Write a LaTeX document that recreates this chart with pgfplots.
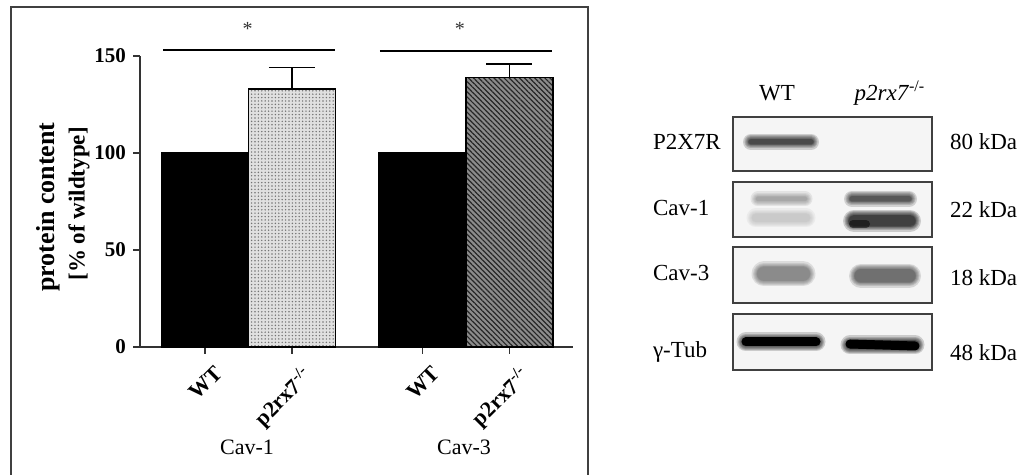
\documentclass[border=0pt]{standalone}
\usepackage{fontspec}
\setmainfont{Liberation Serif}
\usepackage{pgfplots}
\pgfplotsset{compat=1.18}
\usetikzlibrary{patterns.meta}

% soft western-blot band: x1, x2, y, core width (px), colour
\newcommand{\bandlayer}[5]{%
  \addplot[no marks, line cap=round, line width={(#4)*0.5pt}, draw=#5, opacity=0.17] coordinates {(#1,#3) (#2,#3)};
}
\newcommand{\band}[5]{%
  \bandlayer{#1}{#2}{#3}{#4+11}{#5}
  \bandlayer{#1}{#2}{#3}{#4+8}{#5}
  \bandlayer{#1}{#2}{#3}{#4+6}{#5}
  \bandlayer{#1}{#2}{#3}{#4+4}{#5}
  \bandlayer{#1}{#2}{#3}{#4+2}{#5}
  \bandlayer{#1}{#2}{#3}{#4+1}{#5}
  \bandlayer{#1}{#2}{#3}{#4}{#5}
}
\newcommand{\blotbox}[2]{%
  \addplot[draw=black!75, line width=0.75pt, fill=black!4] coordinates {(733,#1) (932,#1) (932,#2) (733,#2)} -- cycle;
}

\begin{document}
\begin{tikzpicture}
\useasboundingbox (0,0) rectangle (509.5pt,237.5pt);
\fill[white] (0,0) rectangle (509.5pt,237.5pt);

% frame round the bar chart
\draw[black!75, line width=0.75pt] (5.5pt,-2pt) -- (5.5pt,234pt) -- (294pt,234pt) -- (294pt,-2pt);

% y label
\node[rotate=90, font=\fontsize{13}{15}\selectfont\bfseries] at (24pt,134pt) {protein content};
\node[rotate=90, font=\fontsize{11.5}{13}\selectfont\bfseries] at (39.5pt,135.5pt) {[\% of wildtype]};

% group labels
\node[font=\fontsize{11}{13}\selectfont] at (123.5pt,14pt) {Cav-1};
\node[font=\fontsize{11}{13}\selectfont] at (232pt,14pt) {Cav-3};

\begin{axis}[
  at={(70pt,64pt)}, anchor=south west, scale only axis,
  width=216.5pt, height=145.5pt,
  xmin=-0.747, xmax=4.23, ymin=0, ymax=150,
  axis lines*=left,
  axis line style={line width=0.75pt, black!80},
  xtick={0,1,2.5,3.5},
  xticklabels={WT, p2rx7\textsuperscript{-/-}, WT, p2rx7\textsuperscript{-/-}},
  xticklabel style={rotate=45, anchor=north east, inner sep=1pt,
    xshift=0.5pt, yshift=-5.5pt,
    font=\fontsize{11}{13}\selectfont\bfseries},
  ytick={0,50,100,150},
  yticklabels={0,50,100,150},
  yticklabel style={font=\fontsize{10.5}{12}\selectfont\bfseries},
  tick align=outside, major tick length=3.5pt,
  tick style={line width=0.75pt, black!80},
  clip=false,
]
% wildtype bars
\addplot[ybar, bar width=1, bar shift=0pt, fill=black, draw=black, line width=0.8pt]
  coordinates {(0,100) (2.5,100)};
% p2rx7-/- Cav-1
\addplot[ybar, bar width=1, bar shift=0pt, draw=black, line width=0.8pt, fill=black!12,
  postaction={pattern={Dots[distance=1.7pt, radius=0.4pt]}, pattern color=black!55},
  error bars/.cd, y dir=plus, y explicit,
  error bar style={line width=0.8pt, black},
  error mark options={rotate=90, line width=0.8pt, black, mark size=11.5pt}]
  coordinates {(1,133) +- (0,11)};
% p2rx7-/- Cav-3
\addplot[ybar, bar width=1, bar shift=0pt, draw=black, line width=0.8pt, fill=black!45,
  postaction={pattern={Lines[angle=-45, distance=1.8pt, line width=0.6pt]}, pattern color=black!85},
  error bars/.cd, y dir=plus, y explicit,
  error bar style={line width=0.8pt, black},
  error mark options={rotate=90, line width=0.8pt, black, mark size=11.5pt}]
  coordinates {(3.5,139) +- (0,7)};
% significance
\addplot[no marks, black, line width=1.1pt] coordinates {(-0.48,153) (1.49,153)};
\addplot[no marks, black, line width=1.1pt] coordinates {(2.01,152.6) (3.99,152.6)};
\node[font=\fontsize{10}{12}\selectfont, black!80] at (axis cs:0.49,164) {*};
\node[font=\fontsize{10}{12}\selectfont, black!80] at (axis cs:2.93,164) {*};
\end{axis}

% western blot, in picture pixel coordinates
\begin{axis}[
  at={(320pt,0pt)}, anchor=south west, scale only axis,
  width=189.5pt, height=237.5pt,
  xmin=640, xmax=1019, ymin=0, ymax=475, y dir=reverse,
  hide axis, clip=false,
]
\blotbox{117}{171}
\blotbox{182}{237}
\blotbox{247}{303}
\blotbox{314}{370}
% P2X7R
\band{751}{811}{142}{5}{black!95}
% Cav-1
\band{758}{805}{199}{4}{black!45}
\band{756}{806}{218}{8}{black!26}
\band{852}{909}{199}{5}{black!88}
\band{854}{910}{221}{11}{black}
\addplot[no marks, line cap=round, line width=4pt, draw=black, opacity=0.5] coordinates {(853,224) (866,224)};
% Cav-3
\band{764}{803}{274}{14}{black!60}
\band{861}{909}{276}{13}{black!75}
% gamma-Tub
\band{746}{816}{342}{8}{black}
\band{850}{915}{345}{8}{black}
\addplot[no marks, line cap=round, line width=4.5pt, draw=black] coordinates {(746,342) (816,342)};
\addplot[no marks, line cap=round, line width=4.5pt, draw=black] coordinates {(850,344) (915,346)};

\node[font=\fontsize{11.5}{13}\selectfont] at (axis cs:777,93) {WT};
\node[font=\fontsize{11.5}{13}\selectfont] at (axis cs:890,93) {\textit{p2rx7}\textsuperscript{-/-}};
\node[anchor=west, font=\fontsize{11.5}{13}\selectfont] at (axis cs:646,142) {P2X7R};
\node[anchor=west, font=\fontsize{11.5}{13}\selectfont] at (axis cs:646,208) {Cav-1};
\node[anchor=west, font=\fontsize{11.5}{13}\selectfont] at (axis cs:646,273) {Cav-3};
\node[anchor=west, font=\fontsize{11.5}{13}\selectfont] at (axis cs:646,352) {γ-Tub};
\node[anchor=west, font=\fontsize{11.5}{13}\selectfont] at (axis cs:943,142) {80 kDa};
\node[anchor=west, font=\fontsize{11.5}{13}\selectfont] at (axis cs:943,210) {22 kDa};
\node[anchor=west, font=\fontsize{11.5}{13}\selectfont] at (axis cs:943,278) {18 kDa};
\node[anchor=west, font=\fontsize{11.5}{13}\selectfont] at (axis cs:943,353) {48 kDa};
\end{axis}
\end{tikzpicture}
\end{document}
